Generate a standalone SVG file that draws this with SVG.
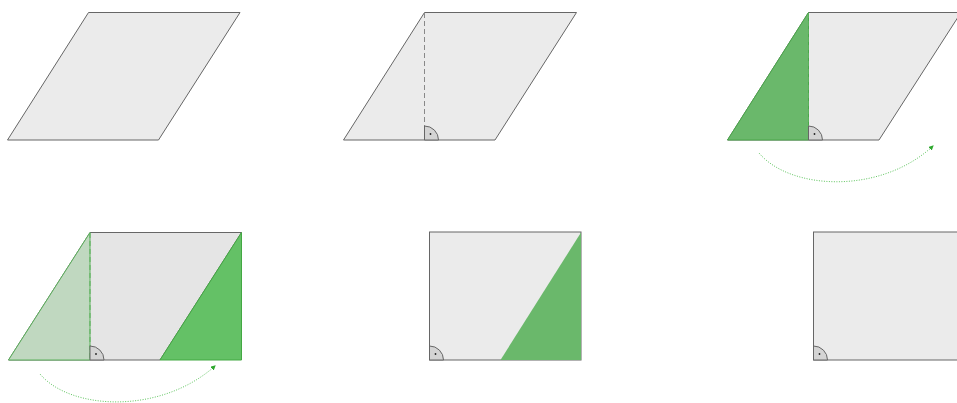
<svg xmlns="http://www.w3.org/2000/svg" width="957" height="403" viewBox="0 0 957 403">
<style>
.shape{fill:#ebebeb;stroke:#666;stroke-width:1}
.mid{fill:#e5e5e5;stroke:#666;stroke-width:1}
.green{fill:#6ab86b;stroke:#4aa64a;stroke-width:1}
.bright{fill:#64c166;stroke:#43a843;stroke-width:1}
.pale{fill:#c0d8c0;stroke:#5bb05b;stroke-width:1}
.dash{stroke:#888;stroke-width:1;stroke-dasharray:5,3;fill:none}
.gdash{stroke:#5bb05b;stroke-width:1;stroke-dasharray:5,3;fill:none}
.angle{fill:#d4d4d4;stroke:#666;stroke-width:1}
.dot{fill:#222}
.move{fill:none;stroke:#5cc45c;stroke-width:1;stroke-dasharray:1,1.5}
</style>
<defs>
<marker id="ah" markerWidth="5" markerHeight="5" refX="4" refY="2.5" orient="auto" markerUnits="userSpaceOnUse">
<path d="M0,0 L5,2.5 L0,5 Z" fill="#2ea82e"/>
</marker>
</defs>
<g id="p1">
<polygon class="shape" points="7.5,140 158.5,140 240,12.5 88.5,12.5"/>
</g>
<g id="p2">
<polygon class="shape" points="343.5,140 495,140 576.5,12.5 424.5,12.5"/>
<line class="dash" x1="424.5" y1="13" x2="424.5" y2="140"/>
<path class="angle" d="M424.5,140 L424.5,126 A14,14 0 0 1 438.5,140 Z"/>
<circle class="dot" cx="430.5" cy="134" r="0.9"/>
</g>
<g id="p3">
<polygon class="shape" points="727.5,140 879,140 961,12.5 808.5,12.5"/>
<polygon class="green" points="727.5,140 808.5,12.5 808.5,140"/>
<line class="gdash" x1="808.5" y1="13" x2="808.5" y2="140"/>
<path class="angle" d="M808.5,140 L808.5,126 A14,14 0 0 1 822.5,140 Z"/>
<circle class="dot" cx="814.5" cy="134" r="0.9"/>
</g>
<g id="p4">
<polygon class="mid" points="8.5,360 160,360 241.5,232.5 90,232.5"/>
<polygon class="pale" points="8.5,360 90,232.5 90,360"/>
<polygon class="bright" points="160,360 241.5,232.5 241.5,360"/>
<line class="gdash" x1="90" y1="233" x2="90" y2="360"/>
<path class="angle" d="M90,360 L90,346 A14,14 0 0 1 104,360 Z"/>
<circle class="dot" cx="96" cy="354" r="0.9"/>
</g>
<g id="p5">
<rect class="shape" x="429.5" y="232" width="151.5" height="128"/>
<polygon class="green" points="500.5,360 581,232.5 581,360" style="stroke:none"/>
<path class="angle" d="M429.5,360 L429.5,346 A14,14 0 0 1 443.5,360 Z"/>
<circle class="dot" cx="435.5" cy="354" r="0.9"/>
</g>
<g id="p6">
<rect class="shape" x="813.5" y="232" width="152" height="128"/>
<path class="angle" d="M813.5,360 L813.5,346 A14,14 0 0 1 827.5,360 Z"/>
<circle class="dot" cx="819.5" cy="354" r="0.9"/>
</g>
<g id="connectors">
<path class="move" d="M759,153 C790,190 880,195 933,146" marker-end="url(#ah)"/>
<path class="move" d="M40,374 C70,410 160,415 215,366" marker-end="url(#ah)"/>
</g>
</svg>
